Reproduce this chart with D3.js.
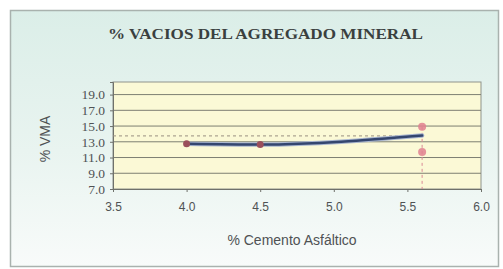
<!DOCTYPE html>
<html><head><meta charset="utf-8">
<script src="https://cdn.jsdelivr.net/npm/d3@7"></script>
<style>html,body{margin:0;padding:0;background:#fff;}svg{display:block;}</style>
</head><body>
<script>
// ---- data ----
const xTickValues = [3.5, 4.0, 4.5, 5.0, 5.5, 6.0];
const yTickValues = [7, 9, 11, 13, 15, 17, 19];
const asphaltPct = [4.0, 4.5, 5.6];
const vmaPct = [12.75, 12.65, 13.8];
const optimumAsphalt = 5.6;
const vmaAtOptimum = 13.75;
const optimumMarks = [14.9, 11.7];
const titleText = "% VACIOS DEL AGREGADO MINERAL";
const xLabel = "% Cemento Asfáltico";
const yLabel = "% VMA";

const W = 503, H = 269;
const svg = d3.select("body").append("svg").attr("width", W).attr("height", H);
const defs = svg.append("defs");
const grad = defs.append("linearGradient").attr("id","bg").attr("x1",0).attr("y1",0).attr("x2",0).attr("y2",1);
grad.append("stop").attr("offset","0%").attr("stop-color","#dbeee8");
grad.append("stop").attr("offset","55%").attr("stop-color","#e9f4f0");
grad.append("stop").attr("offset","100%").attr("stop-color","#f8fbfa");

svg.append("rect").attr("x",10.5).attr("y",10.5).attr("width",488).attr("height",256)
  .attr("fill","url(#bg)").attr("stroke","#a9b2ae").attr("stroke-width",1.5);

const L = 113, R = 481, T = 82, B = 189;
const x = d3.scaleLinear().domain([3.5, 6.0]).range([L, R]);
const y = d3.scaleLinear().domain([7, 20.6]).range([B, T]);

svg.append("rect").attr("x",L).attr("y",T).attr("width",R-L).attr("height",B-T)
  .attr("fill","#fbf9d6").attr("stroke","#8f938c").attr("stroke-width",1);

// gridlines
svg.append("g").selectAll("line").data(yTickValues.slice(1)).join("line")
  .attr("x1",L).attr("x2",R).attr("y1",d=>y(d)).attr("y2",d=>y(d))
  .attr("stroke","#7d7f72").attr("stroke-width",1);

// axes
const yAxis = d3.axisLeft(y).tickValues(yTickValues).tickFormat(d3.format(".1f")).tickSize(3).tickPadding(5);
const gy = svg.append("g").attr("transform",`translate(${L},0)`).call(yAxis);
gy.select(".domain").attr("stroke","#6f716b");
gy.selectAll(".tick line").attr("stroke","#6f716b");
gy.selectAll("text").attr("font-family","Liberation Serif").attr("font-size",13.5).attr("fill","#4f5254");

const xAxis = d3.axisBottom(x).tickValues(xTickValues).tickFormat(d3.format(".1f")).tickSize(3).tickPadding(10);
const gx = svg.append("g").attr("transform",`translate(0,${B})`).call(xAxis);
gx.select(".domain").attr("stroke","#6f716b");
gx.selectAll(".tick line").attr("stroke","#6f716b");
gx.selectAll("text").attr("font-family","Liberation Sans").attr("font-size",12).attr("fill","#4f5254");

// horizontal dashed at optimum VMA
svg.append("line").attr("x1",L).attr("x2",x(optimumAsphalt)).attr("y1",y(vmaAtOptimum)).attr("y2",y(vmaAtOptimum))
  .attr("stroke","#9a8f80").attr("stroke-width",1).attr("stroke-dasharray","3,3");

// vertical dashed at optimum asphalt
svg.append("line").attr("x1",x(optimumAsphalt)).attr("x2",x(optimumAsphalt)).attr("y1",y(optimumMarks[0])).attr("y2",B)
  .attr("stroke","#d98a96").attr("stroke-width",1).attr("stroke-dasharray","3,3");

// main line
const pts = asphaltPct.map((a,i)=>[a, vmaPct[i]]);
const line = d3.line().x(d=>x(d[0])).y(d=>y(d[1])).curve(d3.curveMonotoneX);
svg.append("path").datum(pts).attr("d",line).attr("fill","none")
  .attr("stroke","#a9b6cf").attr("stroke-width",4.5).attr("stroke-linecap","round");
svg.append("path").datum(pts).attr("d",line).attr("fill","none")
  .attr("stroke","#34466f").attr("stroke-width",2.5).attr("stroke-linecap","round");

// markers
svg.append("g").selectAll("circle").data(pts.slice(0,2)).join("circle")
  .attr("cx",d=>x(d[0])).attr("cy",d=>y(d[1])).attr("r",3.5).attr("fill","#9a4f5c");
svg.append("g").selectAll("circle").data(optimumMarks).join("circle")
  .attr("cx",x(optimumAsphalt)).attr("cy",d=>y(d)).attr("r",4).attr("fill","#e0808f").attr("opacity",0.85);

// title & labels
svg.append("text").attr("x",265.5).attr("y",39).attr("text-anchor","middle")
  .attr("font-family","Liberation Serif").attr("font-weight","bold").attr("font-size",14)
  .attr("textLength",315).attr("lengthAdjust","spacingAndGlyphs")
  .attr("fill","#3a403f").text(titleText);
svg.append("text").attr("x",292).attr("y",245).attr("text-anchor","middle")
  .attr("font-family","Liberation Sans").attr("font-size",14).attr("fill","#4f5254").text(xLabel);
svg.append("text").attr("transform","translate(50,139) rotate(-90)").attr("text-anchor","middle")
  .attr("font-family","Liberation Sans").attr("font-size",14).attr("fill","#4f5254").text(yLabel);
</script>
</body></html>
